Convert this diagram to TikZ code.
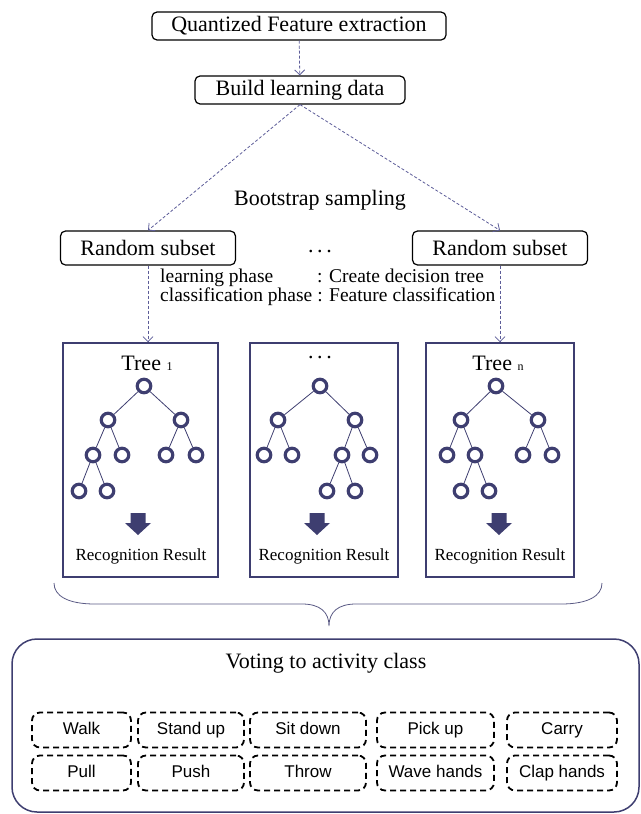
\documentclass[tikz,border=0pt]{standalone}
\usepackage{fontspec}
\setmainfont{Liberation Serif}
\newfontfamily\arialfont{Liberation Sans}
\usetikzlibrary{arrows.meta}
\definecolor{navy}{RGB}{62,62,112}
\definecolor{dashblue}{RGB}{92,92,152}
\tikzset{
  stage/.style={shape=rectangle, draw, rounded corners=5pt, line width=1.2pt, font=\fontsize{22}{24}\selectfont, minimum height=28pt, inner sep=0pt},
  dashflow/.style={draw=dashblue, line width=0.8pt, dash pattern=on 3pt off 2pt, -{Straight Barb[length=5pt,width=10pt]}},
  treebox/.style={shape=rectangle, draw=navy, line width=1.6pt, minimum height=234pt, inner sep=0pt},
  knot/.style={shape=circle, draw=navy, line width=3.2pt, minimum size=13.5pt, inner sep=0pt},
  twig/.style={draw=navy, line width=0.8pt},
  blockarrow/.pic={\fill [navy] (-7.5,-11) -- (7.5,-11) -- (7.5,-1) -- (13,-1) -- (0,11) -- (-13,-1) -- (-7.5,-1) -- cycle;},
  recog/.style={font=\fontsize{17}{18}\selectfont},
  activity/.style={shape=rectangle, draw, line width=1.8pt, dash pattern=on 6pt off 4pt, rounded corners=8pt, minimum height=35pt, font=\arialfont\fontsize{17}{18}\selectfont, text height=12pt, text depth=3.5pt, inner sep=0pt}
}
\begin{document}
\begin{tikzpicture}[x=1pt, y=-1pt]
  \useasboundingbox (0,0) rectangle (640,814);
  \path (299,26)  node [stage, minimum width=294pt] (extract) {Quantized Feature extraction}
        (300,90)  node [stage, minimum width=210pt] (build) {Build learning data}
        (148,248) node [stage, minimum width=175pt, minimum height=34pt] (subset1) {Random subset}
        (500,248) node [stage, minimum width=175pt, minimum height=34pt] (subsetn) {Random subset}
        (320,200) node [font=\fontsize{22}{24}\selectfont] (boot) {Bootstrap sampling}
        (320,252) node [font=\fontsize{22}{24}\selectfont] (dots) {.\,.\,.}
        (160,288) node [anchor=west, inner sep=0pt, font=\fontsize{19.5}{17}\selectfont] (phase)
           {\begin{tabular}{@{}l@{ }l@{}}learning phase & : Create decision tree\\ classification phase & : Feature classification\end{tabular}};

  \draw [dashflow] (extract) -- (build);
  \draw [dashflow] (build.south) -- (subset1.north);
  \draw [dashflow] (build.south) -- (subsetn.north);

  % trees
  \path (140.5,460) node [treebox, minimum width=155pt] (tree1) {}
        (324,460)   node [treebox, minimum width=148pt] (tree2) {}
        (500,460)   node [treebox, minimum width=148pt] (treen) {};
  \draw [dashflow] (subset1.south) -- (subset1.south |- tree1.north);
  \draw [dashflow] (subsetn.south) -- (subsetn.south |- treen.north);

  \path (147,363) node [font=\fontsize{22}{24}\selectfont] (label1) {Tree {\fontsize{12}{12}\selectfont 1}}
        (320,358) node [font=\fontsize{22}{24}\selectfont] (label2) {.\,.\,.}
        (498,363) node [font=\fontsize{22}{24}\selectfont] (labeln) {Tree {\fontsize{12}{12}\selectfont n}};

  \path (144,386) node [knot] (t1r) {}
        (108,420) node [knot] (t1a) {} (181,420) node [knot] (t1b) {}
        (93,455)  node [knot] (t1c) {} (122,455) node [knot] (t1d) {}
        (166,455) node [knot] (t1e) {} (196,455) node [knot] (t1f) {}
        (79,491)  node [knot] (t1g) {} (107,491) node [knot] (t1h) {};
  \foreach \p/\c in {r/a, r/b, a/c, a/d, b/e, b/f, c/g, c/h}
    \draw [twig] (t1\p) -- (t1\c);

  \path (320,386) node [knot] (t2r) {}
        (278,420) node [knot] (t2a) {} (355,420) node [knot] (t2b) {}
        (264,455) node [knot] (t2c) {} (292,455) node [knot] (t2d) {}
        (342,455) node [knot] (t2e) {} (370,455) node [knot] (t2f) {}
        (327,491) node [knot] (t2g) {} (355,491) node [knot] (t2h) {};
  \foreach \p/\c in {r/a, r/b, a/c, a/d, b/e, b/f, e/g, e/h}
    \draw [twig] (t2\p) -- (t2\c);

  \path (496,386) node [knot] (tnr) {}
        (461,420) node [knot] (tna) {} (538,420) node [knot] (tnb) {}
        (447,455) node [knot] (tnc) {} (475,455) node [knot] (tnd) {}
        (523,455) node [knot] (tne) {} (552,455) node [knot] (tnf) {}
        (461,491) node [knot] (tng) {} (489,491) node [knot] (tnh) {};
  \foreach \p/\c in {r/a, r/b, a/c, a/d, b/e, b/f, d/g, d/h}
    \draw [twig] (tn\p) -- (tn\c);

  \pic at (138,524) {blockarrow};
  \pic at (317,524) {blockarrow};
  \pic at (499,524) {blockarrow};
  \path (141,556) node [recog] (result1) {Recognition Result}
        (324,556) node [recog] (result2) {Recognition Result}
        (500,556) node [recog] (resultn) {Recognition Result};

  % brace and voting
  \coordinate (braceL) at (54,583);
  \coordinate (braceR) at (602,583);
  \coordinate (braceT) at (329,626);
  \draw [navy!85, line width=0.8pt] (braceL) .. controls (54,596) and (68,604) .. (95,604) -- (302,604)
        .. controls (320,604) and (329,612) .. (braceT)
        .. controls (329,612) and (338,604) .. (356,604) -- (561,604)
        .. controls (588,604) and (602,596) .. (braceR);
  \draw [navy, line width=1.5pt, rounded corners=25pt] (12,639) rectangle (639,812);
  \node [font=\fontsize{22}{24}\selectfont] (vote) at (326,663) {Voting to activity class};

  \path (81.5,730) node [activity, minimum width=99pt]  (walk) {Walk}
        (191,730)  node [activity, minimum width=106pt] (standup) {Stand up}
        (308,730)  node [activity, minimum width=116pt] (sitdown) {Sit down}
        (435.5,730) node [activity, minimum width=117pt] (pickup) {Pick up}
        (562,730)  node [activity, minimum width=110pt] (carry) {Carry}
        (81.5,773) node [activity, minimum width=99pt]  (pull) {Pull}
        (191,773)  node [activity, minimum width=106pt] (push) {Push}
        (308,773)  node [activity, minimum width=116pt] (throw) {Throw}
        (435.5,773) node [activity, minimum width=117pt] (wave) {Wave hands}
        (562,773)  node [activity, minimum width=110pt] (clap) {Clap hands};
\end{tikzpicture}
\end{document}
